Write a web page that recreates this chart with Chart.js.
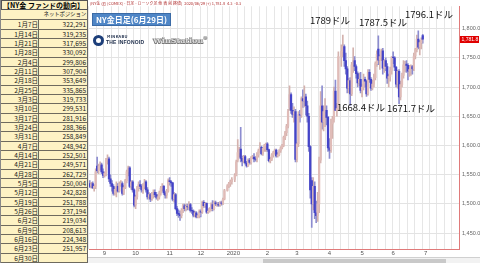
<!DOCTYPE html>
<html><head><meta charset="utf-8">
<script src="https://cdn.jsdelivr.net/npm/chart.js@4.4.0/dist/chart.umd.min.js"></script>
<style>
html,body{margin:0;padding:0;background:#fff;width:480px;height:263px;overflow:hidden;font-family:"Noto Sans CJK JP","Noto Sans",sans-serif;}
#wrap{position:relative;width:480px;height:263px;}
#tbl{position:absolute;left:0;top:0;width:88px;height:263px;background:#fdf2c4;border-right:1px solid #666;border-left:1px solid #888;box-sizing:border-box;}
.row{position:absolute;left:0;width:87px;border-bottom:1px solid #6e6a5e;box-sizing:border-box;color:#1a1a1a;font-size:6.5px;white-space:nowrap;}
.c1{position:absolute;left:0;width:37px;top:0;bottom:0;text-align:right;border-right:1px solid #6e6a5e;}
.c2{position:absolute;left:38px;right:2px;top:0;bottom:0;text-align:right;}
.sub{position:absolute;left:0;right:2px;top:0;bottom:0;text-align:right;font-size:5.5px;letter-spacing:-0.2px;}
.hd{position:absolute;left:0;top:0;width:87px;height:10px;border:1px solid #555;box-sizing:border-box;font-weight:bold;font-size:7px;line-height:8px;text-align:left;padding-left:1px;background:#fdf2c4;white-space:nowrap;}
#c{position:absolute;left:88px;top:0;}
.ann{position:absolute;font-size:9.5px;color:#111;white-space:nowrap;line-height:11px;}
#title{position:absolute;left:92px;top:13px;width:79px;height:13px;background:#4f86c6;border:1px solid #3b6ba6;box-sizing:border-box;color:#fff;font-weight:bold;font-size:8px;line-height:11px;text-align:center;}
#hdr{position:absolute;left:90px;top:0px;font-size:4px;color:#b03030;white-space:nowrap;line-height:6px;}
#logo{position:absolute;left:93px;top:35px;width:11px;height:11px;border-radius:50%;background:#1d3f7a;}
#logo:after{content:"";position:absolute;left:3px;top:3px;width:5px;height:5px;border-radius:50%;background:#fff;}
#mk{position:absolute;left:107px;top:33px;font-size:4px;font-weight:bold;color:#1d2d4a;letter-spacing:0.3px;white-space:nowrap;}
#inf{position:absolute;left:106px;top:38.5px;font-size:5px;font-weight:bold;color:#1d2d4a;letter-spacing:0.2px;font-family:"Liberation Sans",sans-serif;white-space:nowrap;}
#ws{position:absolute;left:153px;top:35px;font-size:8px;font-weight:bold;color:#ddd;font-family:"DejaVu Serif",serif;white-space:nowrap;text-shadow:-0.5px -0.5px 0 #777,0.5px 0.5px 0 #777,0.5px -0.5px 0 #777,-0.5px 0.5px 0 #777;}
#sb{position:absolute;left:88px;top:257px;width:392px;height:6px;background:#f2f2f2;border-top:1px solid #d0d0d0;box-sizing:border-box;}
#thumb{position:absolute;left:175px;top:1px;width:183px;height:4px;background:#c9c9c9;}
</style></head>
<body><div id="wrap">
<div id="tbl"></div>
<canvas id="c" width="392" height="258"></canvas>
<div id="hdr">(NY金 (g) (COMEX) - 日足 - ローソク足 他 表 前 終値)&nbsp;&nbsp;2020/06/29 (+) 1,781.8&nbsp; 4.3&nbsp; -0.3</div>
<div id="title">NY金日足(6月29日)</div>
<div id="logo"></div><div id="mk">MINKABU</div><div id="inf">THE INFONOID</div><div id="ws">WinStation<sup style="font-size:4px">®</sup></div>
<div class="ann" style="left:310px;top:15px">1789ドル</div>
<div class="ann" style="left:359px;top:17px">1787.5ドル</div>
<div class="ann" style="left:405px;top:9px">1796.1ドル</div>
<div class="ann" style="left:337px;top:102px">1668.4ドル</div>
<div class="ann" style="left:387px;top:103px">1671.7ドル</div>
<div id="sb"><div id="thumb"></div></div>
</div>
<script>
// ---- Fund position table ----
const fundDates = ['1月7日','1月14日','1月21日','1月28日','2月4日','2月11日','2月18日','2月25日','3月3日','3月10日','3月17日','3月24日','3月31日','4月7日','4月14日','4月21日','4月28日','5月5日','5月12日','5月19日','5月26日','6月2日','6月9日','6月16日','6月23日','6月30日'];
const netPositions = [322291,319235,317695,330092,299806,307904,353649,335865,319733,299531,281916,288366,258849,248942,252501,249571,262729,250004,242828,251788,237194,219034,208613,224348,251957,null];

// ---- Daily candles (weekdays from 2019-08-19 to 2020-06-29) ----
const opens = [
1535,1530,1535,1528,1530,1565,1557,1565,1567,1555,
1549,1553,1575,1577,1543,1535,1530,1518,1525,1530,1522,1534,1535,1518,1528,1540,1555,1562,1530,1538,1524,
1498,1512,1528,1533,1530,1524,1530,1538,1524,1512,1516,1508,1517,1520,1516,1511,1512,1519,1527,1530,1519,1515,1522,
1540,1538,1536,1508,1516,1492,1484,1482,1480,1489,1497,1492,1496,1495,1499,1489,1488,1481,1485,1478,1480,
1487,1486,1503,1497,1501,1486,1488,1491,1499,1492,1502,1500,1500,1498,1502,1501,1508,null,1523,1531,1535,1538,
null,1542,1549,1575,1588,1594,1578,1573,1581,1570,1565,1575,1571,1579,1580,1577,1576,1584,1591,1597,1586,1595,1600,
1603,1593,1574,1576,1584,1588,1592,1582,1584,1591,1596,1600,1614,1622,1633,1665,1687,1660,1653,1658,
1576,1603,1653,1652,1680,1676,1683,1668,1650,1598,1540,1500,1530,1485,1480,1500,1575,1668,1640,1658,1660,1648,
1596,1592,1637,1645,1693,1660,1663,null,1752,1761,1769,1745,1731,1698,1711,1688,1738,1745,1735,1723,1707,1713,
1694,1700,1713,1710,1688,1725,1713,1698,1705,1716,1740,1765,1746,1752,1762,1732,1745,1735,1715,1718,1728,
1751,1750,1734,1705,1727,1683,1704,1720,1738,1739,1737,1727,1730,1735,1731,1753,1764,1782,1768,1776,1788];
const highs = [
1540,1537,1538,1533,1560,1580,1568,1572,1570,1560,
1555,1578,1584,1580,1550,1540,1533,1528,1538,1535,1538,1540,1538,1532,1542,1558,1565,1564,1540,1540,1526,
1515,1530,1538,1540,1533,1535,1542,1540,1528,1520,1518,1520,1524,1524,1520,1516,1522,1530,1535,1532,1522,1525,1543,
1545,1540,1537,1520,1518,1496,1490,1488,1492,1500,1500,1500,1500,1504,1501,1494,1490,1488,1487,1482,1490,
1490,1505,1506,1503,1502,1492,1494,1502,1506,1505,1505,1503,1503,1504,1505,1510,1525,null,1533,1537,1541,1545,
null,1552,1575,1610,1597,1631,1582,1583,1583,1573,1577,1578,1581,1583,1586,1581,1588,1594,1605,1599,1596,1602,1604,
1605,1594,1580,1586,1590,1594,1594,1588,1593,1598,1602,1616,1624,1636,1662,1702,1690,1672,1666,1662,
1605,1658,1660,1683,1695,1702,1688,1676,1655,1600,1545,1545,1538,1505,1520,1580,1692,1702,1668,1680,1668,1650,
1612,1645,1650,1700,1712,1672,1760,null,1772,1789,1772,1758,1735,1715,1716,1742,1767,1752,1738,1726,1724,1725,
1705,1722,1717,1712,1730,1730,1716,1712,1722,1743,1762,1787.5,1755,1765,1766,1747,1750,1740,1722,1734,1752,
1760,1752,1735,1729,1730,1710,1724,1745,1744,1745,1740,1737,1738,1737,1758,1766,1789,1796.1,1780,1784,1790];
const lows = [
1528,1527,1526,1522,1526,1553,1552,1558,1552,1545,
1546,1548,1568,1538,1530,1522,1515,1515,1512,1520,1520,1530,1515,1516,1526,1536,1548,1528,1525,1520,1495,
1492,1508,1522,1526,1520,1518,1526,1520,1508,1508,1504,1506,1510,1512,1508,1506,1508,1515,1522,1516,1510,1510,1520,
1532,1530,1505,1503,1490,1480,1477,1472,1476,1485,1488,1488,1490,1490,1486,1484,1478,1478,1476,1476,1476,
1478,1484,1494,1494,1484,1484,1486,1488,1488,1490,1497,1496,1496,1496,1498,1499,1507,null,1522,1528,1530,1534,
null,1538,1548,1572,1580,1572,1565,1570,1568,1563,1564,1568,1568,1577,1572,1573,1572,1580,1588,1584,1583,1590,1590,
1590,1572,1570,1574,1580,1585,1580,1580,1582,1588,1594,1598,1610,1617,1630,1660,1655,1648,1640,1572,
1572,1598,1640,1648,1665,1666,1652,1640,1590,1510,1460,1490,1475,1468,1470,1485,1570,1628,1625,1632,1635,1590,
1578,1588,1612,1640,1660,1650,1660,null,1735,1752,1735,1722,1690,1690,1668.4,1685,1725,1728,1715,1700,1702,1690,
1683,1695,1700,1684,1686,1708,1694,1695,1700,1712,1735,1738,1730,1745,1722,1725,1728,1706,1700,1710,1722,
1740,1728,1700,1698,1671.7,1678,1700,1715,1726,1725,1712,1718,1720,1722,1728,1748,1760,1765,1755,1765,1775];
const closes = [
1530,1535,1528,1530,1555,1557,1565,1567,1555,1549,
1553,1575,1577,1543,1535,1530,1518,1525,1530,1522,1534,1535,1518,1528,1540,1555,1562,1530,1538,1524,1498,
1512,1528,1533,1530,1524,1530,1536,1524,1512,1516,1508,1517,1520,1516,1511,1512,1519,1527,1530,1519,1515,1522,1540,
1538,1536,1508,1516,1492,1484,1482,1480,1489,1497,1492,1496,1495,1499,1489,1488,1481,1485,1478,1480,1487,
1486,1503,1497,1501,1486,1488,1491,1499,1492,1502,1500,1500,1498,1502,1501,1508,1523,null,1531,1535,1538,1542,
null,1549,1572,1588,1594,1578,1573,1581,1570,1565,1575,1571,1579,1580,1577,1576,1584,1591,1597,1586,1595,1600,1603,
1593,1574,1576,1584,1588,1592,1582,1584,1591,1596,1600,1614,1622,1633,1658,1687,1660,1653,1658,1576,
1603,1653,1652,1680,1676,1683,1668,1650,1598,1524,1500,1530,1485,1480,1500,1575,1668,1640,1658,1660,1648,1596,
1592,1637,1645,1693,1660,1663,1752,null,1761,1769,1745,1731,1698,1711,1688,1738,1745,1735,1723,1707,1713,1694,
1700,1713,1710,1688,1725,1713,1698,1705,1716,1740,1756,1746,1752,1762,1732,1745,1735,1715,1718,1728,1751,
1750,1734,1705,1727,1683,1704,1720,1738,1739,1737,1727,1730,1735,1731,1753,1764,1782,1768,1776,1780,1781.8];

const yTicks = [1450,1500,1550,1600,1650,1700,1750,1800];

// build table
const tbl = document.getElementById('tbl');
const hd = document.createElement('div'); hd.className='hd'; hd.textContent='【NY金 ファンドの動向】'; tbl.appendChild(hd);
const sub = document.createElement('div'); sub.className='row';
sub.style.top='10px'; sub.style.height='10.3px'; sub.style.lineHeight='9px';
sub.innerHTML='<div class="sub">ネットポジション</div>';
tbl.appendChild(sub);
fundDates.forEach((d,k)=>{
  const r=document.createElement('div'); r.className='row';
  r.style.top=(20.3+k*9.33)+'px'; r.style.height='9.33px'; r.style.lineHeight='8.5px';
  const v = netPositions[k]==null ? '' : netPositions[k].toLocaleString('en-US');
  r.innerHTML='<div class="c1">'+d+'</div><div class="c2">'+v+'</div>';
  tbl.appendChild(r);
});

// categories: weekdays
const labels=[];
const dt=new Date(Date.UTC(2019,7,19));
while(labels.length<250){const wd=dt.getUTCDay(); if(wd!==0&&wd!==6) labels.push(dt.toISOString().slice(0,10)); dt.setUTCDate(dt.getUTCDate()+1);}
const isMonday=i=> i>=0 && i<labels.length && new Date(labels[i]+'T00:00:00Z').getUTCDay()===1;
function monthLabel(i){ if(i<=0||i>=labels.length) return ''; const m=labels[i].slice(5,7), pm=labels[i-1].slice(5,7); if(m===pm) return ''; return m==='01'? labels[i].slice(0,4) : String(+m); }

const wickData = labels.map((_,i)=> (highs[i]==null)? null : [lows[i],highs[i]]);
const bodyData = labels.map((_,i)=> (opens[i]==null)? null : [opens[i],closes[i]]);
const isUp = i => closes[i] >= opens[i];
const lastClose = closes[closes.length-1];

const priceBox = { id:'priceBox', afterDraw(chart){
  const c=chart.ctx, y=chart.scales.y.getPixelForValue(lastClose), r=chart.chartArea.right;
  c.save(); c.fillStyle='#e00000'; c.fillRect(r+1,Math.round(y)-3,19,7);
  c.fillStyle='#fff'; c.font='5px "Liberation Sans"'; c.textBaseline='middle';
  c.fillText(lastClose.toLocaleString('en-US',{minimumFractionDigits:1,maximumFractionDigits:1}), r+2.5, Math.round(y)+0.5);
  c.restore(); } };

new Chart(document.getElementById('c'),{
  type:'bar',
  data:{labels, datasets:[
    {data:wickData, backgroundColor:ctx=> isUp(ctx.dataIndex)?'#d4b2ae':'#8c8cd0', barThickness:1, grouped:false, order:2},
    {data:bodyData, backgroundColor:ctx=> isUp(ctx.dataIndex)?'#e0bcb8':'#4444c8', barThickness:1.6, grouped:false, order:1}
  ]},
  options:{
    responsive:false, animation:false, devicePixelRatio:1,
    layout:{padding:{left:1,top:0,right:0,bottom:0}},
    plugins:{legend:{display:false}, tooltip:{enabled:false}},
    scales:{
      x:{type:'category', offset:true,
        grid:{offset:true, drawTicks:false, color:ctx=> isMonday(ctx.index)?'#e6e6e6':'rgba(0,0,0,0)'},
        border:{display:true,color:'#e07a7a'},
        ticks:{autoSkip:false,maxRotation:0,minRotation:0,padding:1,font:{size:6,family:'Liberation Sans'},color:'#555',callback:(v,i)=>monthLabel(i)},
        afterFit:s=>{s.height=9;}},
      y:{position:'right', min:1423, max:1838,
        afterBuildTicks:s=>{s.ticks=yTicks.map(v=>({value:v}));},
        grid:{color:'#e3e3e3', drawTicks:false},
        border:{display:true,color:'#e07a7a'},
        ticks:{padding:3,font:{size:5.5,family:'Liberation Sans'},color:'#666',callback:v=>v.toLocaleString('en-US',{minimumFractionDigits:1,maximumFractionDigits:1})},
        afterFit:s=>{s.width=21;}}
    }
  },
  plugins:[priceBox]
});
</script>
</body></html>
